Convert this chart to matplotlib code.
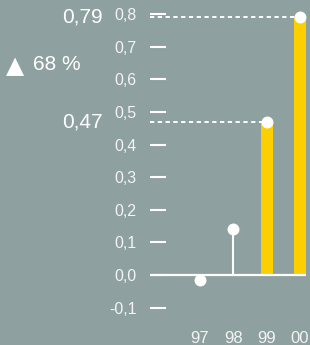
import matplotlib
matplotlib.use("Agg")
import matplotlib.pyplot as plt
import matplotlib.transforms as mtransforms

categories = ["97", "98", "99", "00"]
values = [-0.015, 0.14, 0.47, 0.79]
is_bar = [False, False, True, True]
y_ticks = [-0.1, 0.0, 0.1, 0.2, 0.3, 0.4, 0.5, 0.6, 0.7, 0.8]
y_tick_labels = ["-0,1", "0,0", "0,1", "0,2", "0,3", "0,4", "0,5", "0,6", "0,7", "0,8"]
highlight_labels = ["0,47", "0,79"]
change_symbol = "▲"
change_label = "68 %"

BG = "#8ea09f"
YEL = "#fccf00"
W = 310
H = 345

plt.rcParams['font.family'] = ['Liberation Sans', 'DejaVu Sans']

fig = plt.figure(figsize=(W / 100, H / 100), dpi=100, facecolor=BG)
ax_left, ax_bottom_px = 150, 325
ax = fig.add_axes([ax_left / W, (H - ax_bottom_px) / H, (W - ax_left) / W, ax_bottom_px / H])
ax.set_facecolor(BG)

px_per_unit = 326.0
zero_px = 275.0
ax.set_ylim((zero_px - ax_bottom_px) / px_per_unit, zero_px / px_per_unit)
cat_spacing = 33.3
first_cat_px = 200
ax.set_xlim((ax_left - first_cat_px) / cat_spacing, (W - first_cat_px) / cat_spacing)

xs = list(range(len(categories)))
for x, v, b in zip(xs, values, is_bar):
    if b:
        ax.bar(x, v, width=0.36, color=YEL, zorder=2)
    else:
        ax.plot([x, x], [0, v], color="white", lw=1.5, zorder=3, solid_capstyle="butt")
    ax.plot(x, v, "o", color="white", ms=8.6, mec="none", zorder=5)

# zero line
ax.plot([ax.get_xlim()[0], 3.18], [0, 0], color="white", lw=1.6, zorder=4, solid_capstyle="butt")

# dashed reference lines for bars
bar_idx = [i for i, b in enumerate(is_bar) if b]
for i in bar_idx:
    ax.plot([ax.get_xlim()[0], xs[i]], [values[i], values[i]], color="white", lw=1.4,
            ls=(0, (2.2, 1.8)), zorder=4)

trans = mtransforms.blended_transform_factory(fig.transFigure, ax.transData)
for i, lab in zip(bar_idx, highlight_labels):
    ax.text(103 / W, values[i], lab, transform=trans, ha="right", va="center",
            color="white", fontsize=15, clip_on=False)

fig.text(15 / W, 1 - 66 / H, change_symbol, ha="center", va="center", color="white",
         fontsize=17, family="DejaVu Sans")
fig.text(33 / W, 1 - 65 / H, change_label, ha="left", va="center", color="white", fontsize=15)

ax.set_yticks(y_ticks)
ax.set_yticklabels(y_tick_labels)
ax.set_xticks(xs)
ax.set_xticklabels(categories)
ax.tick_params(axis="y", direction="in", length=11.5, width=1.5, color="white",
               labelcolor="#f4f4f4", labelsize=11.5, pad=9.5)
ax.tick_params(axis="x", length=0, labelcolor="#f4f4f4", labelsize=12, pad=4)
for s in ax.spines.values():
    s.set_visible(False)

fig.savefig("out.png", dpi=100, facecolor=BG)
